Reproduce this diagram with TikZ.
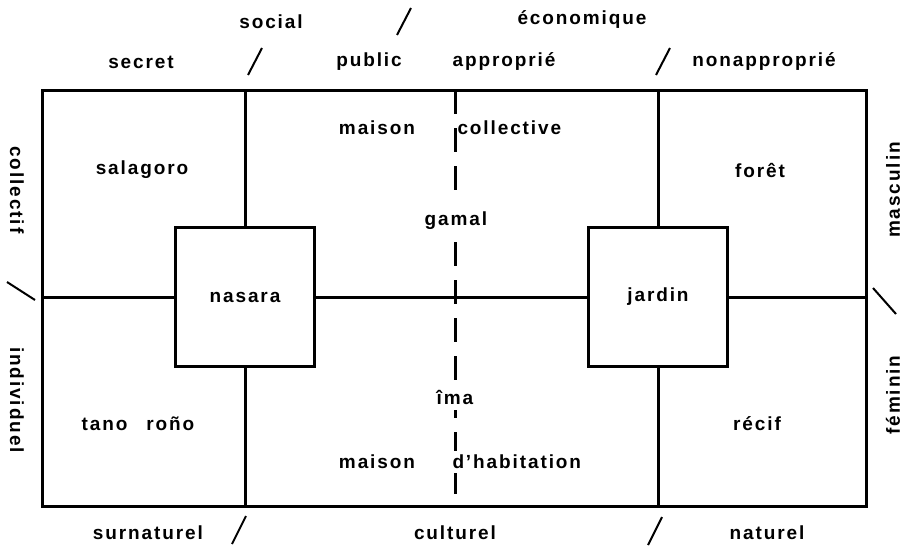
\documentclass[tikz,border=0pt]{standalone}
\usepackage{fontspec}
\setmainfont{Liberation Sans}[LetterSpace=10]
\begin{document}
\begin{tikzpicture}[x=1pt,y=-1pt,line width=3pt,
  lbl/.style={font=\bfseries\fontsize{19}{22}\selectfont,inner sep=2pt},
  hole/.style={lbl,fill=white,inner xsep=1pt,inner ysep=6pt},
  cell/.style={draw,line width=3.2pt,minimum width=139pt,minimum height=139pt,lbl},
  cut/.style={line width=2pt},
  gap/.style={dash pattern=on 24pt off 14pt}]
\useasboundingbox (0,0) rectangle (906,546);

% frame corners and the ends of the middle axis
\coordinate (tl) at (42,90);
\coordinate (br) at (866,506);
\coordinate (ml) at (42,297);
\coordinate (mr) at (866,297);
\coordinate (dtop) at (455,90);
\coordinate (dbot) at (455,506);

\draw (tl) rectangle (br);

% the two central squares
\node[cell] (nasara) at (245,297) {nasara};
\node[cell] (jardin) at (658,297) {jardin};

% partitions
\draw (nasara.north) -- (nasara.north |- tl);
\draw (nasara.south) -- (nasara.south |- br);
\draw (jardin.north) -- (jardin.north |- tl);
\draw (jardin.south) -- (jardin.south |- br);
\draw (ml) -- (nasara.west);
\draw (nasara.east) -- (jardin.west);
\draw (jardin.east) -- (mr);
\draw[gap] (dtop) -- (dbot);

% cell labels
\node[lbl] (salagoro) at (142,170) {salagoro};
\node[lbl] (foret) at (760,170) {forêt};
\node[lbl] (tano) at (138,424) {tano\hspace{1em}roño};
\node[lbl] (recif) at (757,424) {récif};
\node[lbl] (mc1) at (377,128) {maison};
\node[hole,anchor=west] (mc2) at (455,128) {collective};
\node[hole,inner xsep=4pt,inner ysep=9pt] (gamal) at (456,221) {gamal};
\node[hole,inner xsep=4pt] (ima) at (455,397) {îma};
\node[lbl] (mh1) at (377,462) {maison};
\node[hole,anchor=west,inner ysep=4pt] (mh2) at (450,462) {d’habitation};

% outer labels
\node[lbl] (social) at (271,22) {social};
\node[lbl] (eco) at (582,20) {économique};
\node[lbl] (secret) at (141,62) {secret};
\node[lbl] (public) at (369,62) {public};
\node[lbl] (appr) at (504,62) {approprié};
\node[lbl] (nonappr) at (764,62) {nonapproprié};
\node[lbl] (surnat) at (148,533) {surnaturel};
\node[lbl] (cult) at (455,533) {culturel};
\node[lbl] (nat) at (767,533) {naturel};
\node[lbl,rotate=-90] (coll) at (17,190) {collectif};
\node[lbl,rotate=-90] (indiv) at (17,400) {individuel};
\node[lbl,rotate=90] (masc) at (893,190) {masculin};
\node[lbl,rotate=90] (fem) at (893,395) {féminin};

% slashes between paired terms
\draw[cut] (397,35) -- (411,8);
\draw[cut] (248,75) -- (262,48);
\draw[cut] (656,75) -- (670,48);
\draw[cut] (7,282) -- (35,300);
\draw[cut] (873,288) -- (896,314);
\draw[cut] (232,544) -- (246,516);
\draw[cut] (648,545) -- (662,517);
\end{tikzpicture}
\end{document}
